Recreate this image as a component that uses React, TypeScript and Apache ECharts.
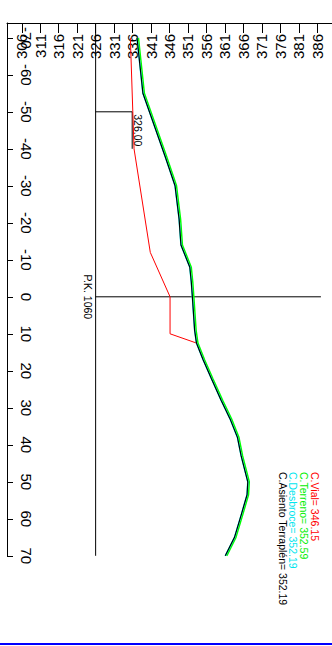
import React, { useEffect, useRef } from "react";
import * as echarts from "echarts";

// Tick labels
const elevTicks = [306, 311, 316, 321, 326, 331, 336, 341, 346, 351, 356, 361, 366, 371, 376, 381, 386];
const distTicks = [-70, -60, -50, -40, -30, -20, -10, 0, 10, 20, 30, 40, 50, 60, 70];

// Ground profile (distance, elevation)
const groundDist = [-70, -55, -38, -33, -30, -21, -14, -8, -4, 0, 9, 12.5, 17, 22, 28, 33, 38, 43, 50, 53.5, 59, 65, 70];
const terrainElev = [337.6, 339.2, 345.2, 346.9, 347.9, 349.0, 349.5, 351.9, 352.3, 352.59, 353.2, 353.7, 355.5, 357.7, 360.4, 362.8, 364.8, 365.8, 367.6, 367.4, 365.8, 364.0, 361.5];
const desbroceElev = [337.2, 338.8, 344.8, 346.5, 347.5, 348.6, 349.1, 351.5, 351.9, 352.19, 352.8, 353.3, 355.1, 357.3, 360.0, 362.4, 364.4, 365.4, 367.2, 367.0, 365.4, 363.6, 361.1];
const asientoElev = [337.2, 338.8, 344.8, 346.5, 347.5, 348.6, 349.1, 351.5, 351.9, 352.19, 352.8, 353.3, 355.1, 357.3, 360.0, 362.4, 364.4, 365.4, 367.2, 367.0, 365.4, 363.6, 361.1];

// Road surface (C. Vial)
const vialDist = [-70, -40, -12, 0, 10, 12.5];
const vialElev = [335.4, 336.4, 340.8, 346.15, 346.15, 353.3];

// Reference lines
const datumElev = 326;
const datumDist = [-74, 70];
const axisLineEnd = 387;
const markerDist = [-50, -40];
const markerElev = 335.9;

const legendTexts = ["C.Vial= 346.15", "C.Terreno= 352.59", "C.Desbroce= 352.19", "C.Asiento Terraplén= 352.19"];
const legendColors = ["#ff0000", "#00ee00", "#00e5ee", "#000000"];

const FONT = "'Liberation Sans', Arial, sans-serif";

function pairs(xs: number[], ys: number[]) {
  return xs.map((d, i) => [ys[i], d]);
}

export default function App() {
  const ref = useRef<HTMLDivElement>(null);
  useEffect(() => {
    if (!ref.current) return;
    const chart = echarts.init(ref.current, undefined, { renderer: "svg" });
    const pxX = 3.72;
    const pxY = 3.7;
    const option: any = {
      animation: false,
      grid: { left: 7, top: 23, width: 88 * pxX, height: 144 * pxY, containLabel: false },
      xAxis: {
        type: "value",
        position: "top",
        min: 302,
        max: 390,
        axisLine: { show: true, onZero: false, lineStyle: { color: "#000", width: 1 } },
        axisTick: { show: true, inside: true, length: 10, customValues: elevTicks, lineStyle: { color: "#000" } },
        axisLabel: {
          show: true,
          inside: true,
          rotate: -90,
          customValues: elevTicks,
          color: "#000",
          fontSize: 15,
          fontFamily: FONT,
          margin: 11,
        },
        splitLine: { show: false },
      },
      yAxis: {
        type: "value",
        position: "left",
        inverse: true,
        min: -74,
        max: 70,
        axisLine: { show: true, onZero: false, lineStyle: { color: "#000", width: 1 } },
        axisTick: { show: true, inside: true, length: 6, customValues: distTicks, lineStyle: { color: "#000" } },
        axisLabel: {
          show: true,
          inside: true,
          rotate: -90,
          customValues: distTicks,
          color: "#000",
          fontSize: 15,
          fontFamily: FONT,
          margin: 12,
        },
        splitLine: { show: false },
      },
      series: [
        {
          type: "line",
          data: datumDist.map((d) => [datumElev, d]),
          symbol: "none",
          lineStyle: { color: "#000", width: 1 },
          silent: true,
        },
        {
          type: "line",
          data: [[datumElev, 0], [axisLineEnd, 0]],
          symbol: "none",
          lineStyle: { color: "#000", width: 1 },
          silent: true,
        },
        {
          type: "line",
          data: [[datumElev, markerDist[0]], [markerElev, markerDist[0]], [markerElev, markerDist[1]]],
          symbol: "none",
          lineStyle: { color: "#000", width: 1 },
          silent: true,
        },
        {
          type: "line",
          data: pairs(vialDist, vialElev),
          symbol: "none",
          lineStyle: { color: "#ff0000", width: 1 },
        },
        {
          type: "line",
          data: pairs(groundDist, terrainElev),
          symbol: "none",
          lineStyle: { color: "#00ff00", width: 1.5 },
        },
        {
          type: "line",
          data: pairs(groundDist, desbroceElev),
          symbol: "none",
          lineStyle: { color: "#00ffff", width: 1.5 },
        },
        {
          type: "line",
          data: pairs(groundDist, asientoElev),
          symbol: "none",
          lineStyle: { color: "#000000", width: 1.2 },
        },
      ],
    };
    chart.setOption(option);

    const mk = chart.convertToPixel({ gridIndex: 0 }, [markerElev, (markerDist[0] + markerDist[1]) / 2]) as number[];
    const pk = chart.convertToPixel({ gridIndex: 0 }, [datumElev, 0]) as number[];
    const legendX = [314.5, 303.5, 293, 282.5];
    const graphics: any[] = [
      {
        type: "text",
        x: mk[0] + 6,
        y: mk[1],
        rotation: -Math.PI / 2,
        style: { text: "326.00", fill: "#000", font: `10.5px ${FONT}`, align: "center", verticalAlign: "middle" },
      },
      {
        type: "text",
        x: pk[0] - 8,
        y: pk[1],
        rotation: -Math.PI / 2,
        style: { text: "P.K. 1060", fill: "#000", font: `10.5px ${FONT}`, align: "center", verticalAlign: "middle" },
      },
      ...legendTexts.map((t, i) => ({
        type: "text",
        x: legendX[i],
        y: 472,
        rotation: -Math.PI / 2,
        style: { text: t, fill: legendColors[i], font: `10.5px ${FONT}`, align: "left", verticalAlign: "middle" },
      })),
      {
        type: "rect",
        shape: { x: 0, y: 643, width: 332, height: 2 },
        style: { fill: "#0000ff" },
      },
    ];
    chart.setOption({ graphic: graphics });
    return () => chart.dispose();
  }, []);
  return (
    <div
      ref={ref}
      style={{ position: "fixed", left: 0, top: 0, width: 332, height: 646, background: "#fff" }}
    />
  );
}
